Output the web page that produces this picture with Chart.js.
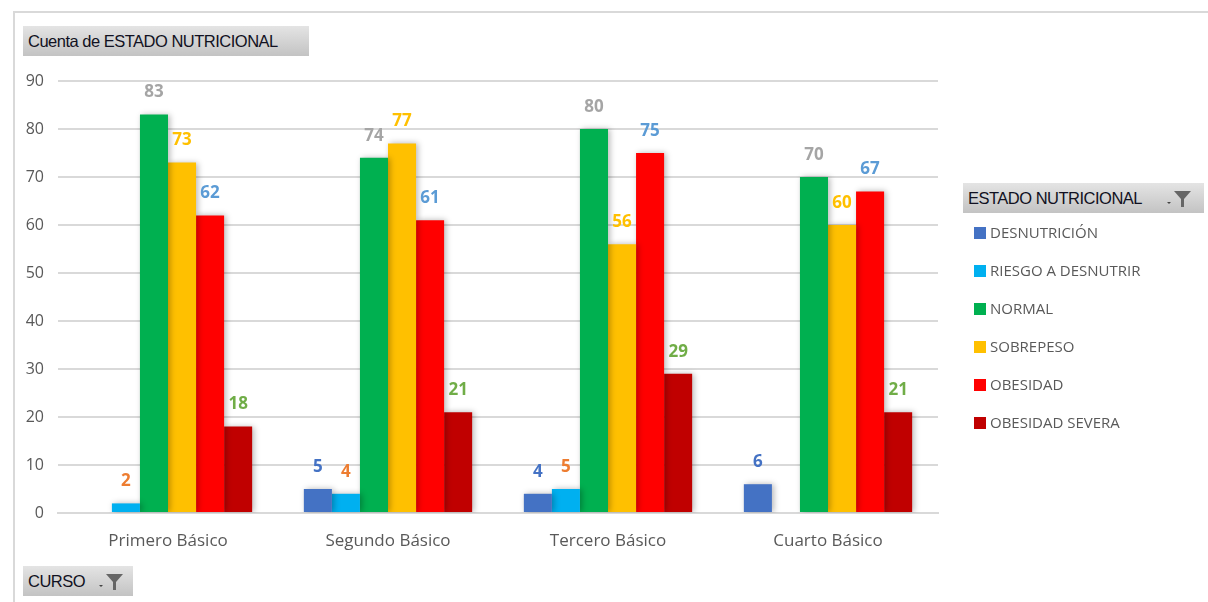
<!DOCTYPE html>
<html>
<head>
<meta charset="utf-8">
<script src="https://cdn.jsdelivr.net/npm/chart.js@4/dist/chart.umd.min.js"></script>
<style>
  html, body { margin: 0; padding: 0; background: #fff; }
  #wrap { position: relative; width: 1208px; height: 602px; overflow: hidden; }
  #frame { position: absolute; left: 13px; top: 11px; width: 1300px; height: 700px;
    border-left: 2px solid #d9d9d9; border-top: 2px solid #d9d9d9; }
  canvas { position: absolute; left: 0; top: 0; }
  .btn { position: absolute; height: 30px; box-sizing: border-box;
    background: linear-gradient(#e4e4e4, #c3c3c3); font-family: "Liberation Sans", sans-serif;
    font-size: 16.5px; color: #111122; line-height: 30px; padding-left: 5px; letter-spacing: -0.5px; }
  .btn svg { position: absolute; top: 6px; }
  #legend { position: absolute; left: 974px; top: 222px; font-family: "Open Sans", sans-serif;
    font-size: 15px; color: #595959; }
  #legend div { height: 38px; line-height: 20px; white-space: nowrap; }
  #legend span { display: inline-block; width: 12px; height: 12px; margin-right: 4px; vertical-align: -1px; }
</style>
</head>
<body>
<div id="wrap">
  <div id="frame"></div>
  <canvas id="c" width="1208" height="602"></canvas>
  <div class="btn" style="left:23px;top:26px;width:286px;">Cuenta de ESTADO NUTRICIONAL</div>
  <div class="btn" style="left:963px;top:183px;width:241px;">ESTADO NUTRICIONAL
    <svg style="left:200px" width="36" height="20" viewBox="0 0 36 20">
      <path d="M4 13 L8 13 L6 15 Z" fill="#444"/>
      <path d="M11 2 L28 2 L21 10 L21 18 L18 18 L18 10 Z" fill="#666"/>
    </svg>
  </div>
  <div class="btn" style="left:23px;top:566px;width:110px;">CURSO
    <svg style="left:72px" width="36" height="20" viewBox="0 0 36 20">
      <path d="M4 13 L8 13 L6 15 Z" fill="#444"/>
      <path d="M11 2 L28 2 L21 10 L21 18 L18 18 L18 10 Z" fill="#666"/>
    </svg>
  </div>
  <div id="legend"></div>
</div>
<script>
const cursos = ["Primero Básico", "Segundo Básico", "Tercero Básico", "Cuarto Básico"];
const estados = ["DESNUTRICIÓN", "RIESGO A DESNUTRIR", "NORMAL", "SOBREPESO", "OBESIDAD", "OBESIDAD SEVERA"];

const desnutricion = [null, 5, 4, 6];
const riesgo = [2, 4, 5, null];
const normal = [83, 74, 80, 70];
const sobrepeso = [73, 77, 56, 60];
const obesidad = [62, 61, 75, 67];
const obesidadSevera = [18, 21, 29, 21];

const barColors = ["#4472C4", "#00B0F0", "#00B050", "#FFC000", "#FF0000", "#C00000"];
const labelColors = ["#4472C4", "#ED7D31", "#A5A5A5", "#FFC000", "#5B9BD5", "#70AD47"];
const series = [desnutricion, riesgo, normal, sobrepeso, obesidad, obesidadSevera];

// legend in html
const leg = document.getElementById("legend");
estados.forEach((e, i) => {
  const d = document.createElement("div");
  d.innerHTML = '<span style="background:' + barColors[i] + '"></span>' + e;
  leg.appendChild(d);
});

// excel-ish drop shadow on bars
const shadowPlugin = {
  id: "shadow",
  beforeDatasetsDraw(chart) {
    const ctx = chart.ctx;
    ctx.save();
    ctx.shadowColor = "rgba(0,0,0,0.28)";
    ctx.shadowBlur = 6;
    ctx.shadowOffsetX = 2;
    ctx.shadowOffsetY = 0;
  },
  afterDatasetsDraw(chart) {
    chart.ctx.restore();
  }
};

// value labels above the bars
const valueLabels = {
  id: "valueLabels",
  afterDatasetsDraw(chart) {
    const ctx = chart.ctx;
    ctx.save();
    ctx.font = "bold 17px 'Open Sans', sans-serif";
    ctx.textAlign = "center";
    ctx.textBaseline = "middle";
    chart.data.datasets.forEach((ds, i) => {
      const meta = chart.getDatasetMeta(i);
      meta.data.forEach((bar, j) => {
        const v = ds.data[j];
        if (v == null) return;
        ctx.fillStyle = labelColors[i];
        ctx.fillText(v, bar.x, bar.y - 22);
      });
    });
    ctx.restore();
  }
};

new Chart(document.getElementById("c"), {
  type: "bar",
  data: {
    labels: cursos,
    datasets: estados.map((e, i) => ({
      label: e,
      data: series[i],
      backgroundColor: barColors[i],
      categoryPercentage: 0.765,
      barPercentage: 1.0
    }))
  },
  options: {
    responsive: false,
    animation: false,
    layout: { padding: { left: 20, top: 81, right: 270, bottom: 40 } },
    plugins: { legend: { display: false }, tooltip: { enabled: false } },
    scales: {
      x: {
        grid: { display: false, drawTicks: false },
        border: { display: true, color: "#d9d9d9", width: 2 },
        ticks: { color: "#595959", font: { size: 17, family: "'Open Sans', sans-serif" }, padding: 18 },
        afterFit: s => { s.height = 49; }
      },
      y: {
        min: 0, max: 90,
        grid: { color: "#d9d9d9", lineWidth: 2, drawTicks: false },
        border: { display: false },
        ticks: { stepSize: 10, color: "#595959", font: { size: 16, family: "'Open Sans', sans-serif" }, padding: 14 },
        afterFit: s => { s.width = 38; }
      }
    }
  },
  plugins: [shadowPlugin, valueLabels]
});
</script>
</body>
</html>
